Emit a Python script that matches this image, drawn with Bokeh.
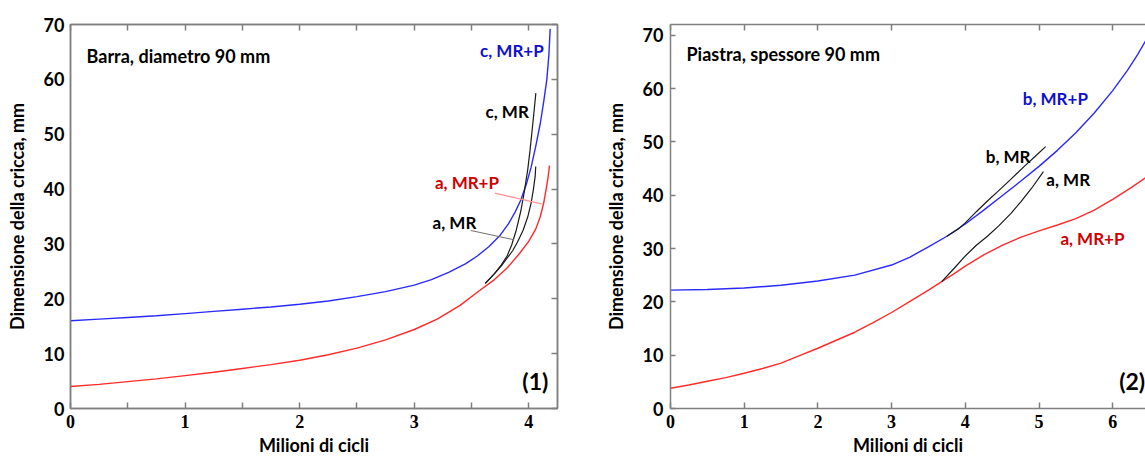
from bokeh.plotting import figure
from bokeh.models import FixedTicker, LinearAxis, Label, Range1d
from bokeh.layouts import row
from bokeh.embed import file_html
from bokeh.resources import INLINE

# ---------------- data ----------------
# Panel 1: Barra, diametro 90 mm
bar_c_mrp_x = [0, 0.25, 0.5, 0.75, 1, 1.25, 1.5, 1.75, 2, 2.25, 2.5, 2.75, 3, 3.15, 3.3, 3.45, 3.55,
               3.65, 3.75, 3.82, 3.88, 3.93, 3.98, 4.02, 4.06, 4.1, 4.13, 4.157, 4.175, 4.186]
bar_c_mrp_y = [16.0, 16.3, 16.6, 16.9, 17.3, 17.7, 18.1, 18.5, 19.0, 19.6, 20.4, 21.3, 22.5, 23.5, 24.8,
               26.4, 27.8, 29.5, 31.6, 33.6, 35.8, 38.0, 41.0, 44.0, 47.8, 52.0, 56.0, 60.0, 64.5, 69.2]

bar_a_mrp_x = [0, 0.25, 0.5, 0.75, 1, 1.25, 1.5, 1.75, 2, 2.25, 2.5, 2.75, 3, 3.2, 3.4, 3.55, 3.7,
               3.81, 3.92, 4.0, 4.06, 4.1, 4.13, 4.155, 4.17, 4.18]
bar_a_mrp_y = [4.0, 4.4, 4.9, 5.4, 6.0, 6.6, 7.3, 8.0, 8.8, 9.8, 11.0, 12.5, 14.4, 16.3, 18.8, 21.2, 23.5,
               25.6, 28.3, 30.5, 32.7, 35.0, 37.5, 40.5, 42.5, 44.3]

bar_c_mr_x = [3.62, 3.7, 3.76, 3.81, 3.85, 3.89, 3.93, 3.96, 3.99, 4.01, 4.03, 4.047, 4.061]
bar_c_mr_y = [22.8, 24.6, 26.2, 27.8, 29.8, 32.5, 36.0, 39.5, 43.5, 47.0, 51.0, 54.5, 57.5]

bar_a_mr_x = [3.62, 3.7, 3.76, 3.81, 3.86, 3.90, 3.95, 3.99, 4.02, 4.04, 4.055, 4.06]
bar_a_mr_y = [22.8, 24.6, 26.0, 27.4, 28.8, 30.3, 32.5, 34.9, 37.5, 40.0, 42.3, 44.1]

# Panel 2: Piastra, spessore 90 mm
pl_b_mrp_x = [0, 0.5, 1, 1.5, 2, 2.5, 3, 3.25, 3.5, 3.75, 4.0, 4.25, 4.5, 4.75, 5.0, 5.25, 5.5,
              5.75, 6.0, 6.2, 6.34, 6.45]
pl_b_mrp_y = [22.2, 22.3, 22.6, 23.1, 23.9, 25.0, 26.9, 28.4, 30.3, 32.3, 34.6, 37.2, 39.9, 42.6,
              45.4, 48.4, 51.7, 55.4, 59.6, 63.4, 66.4, 69.0]

pl_a_mrp_x = [0, 0.25, 0.5, 0.75, 1, 1.25, 1.5, 1.75, 2, 2.25, 2.5, 2.75, 3, 3.25, 3.5, 3.68, 3.85,
              4.0, 4.25, 4.5, 4.75, 5.0, 5.25, 5.5, 5.75, 6.0, 6.25, 6.45]
pl_a_mrp_y = [3.8, 4.4, 5.1, 5.8, 6.6, 7.5, 8.5, 9.9, 11.3, 12.8, 14.3, 16.1, 18.0, 20.1, 22.2, 23.8,
              25.3, 26.7, 28.8, 30.6, 32.1, 33.3, 34.4, 35.6, 37.2, 39.2, 41.4, 43.3]

pl_b_mr_x = [3.75, 3.9, 4.0, 4.15, 4.3, 4.45, 4.62, 4.8, 4.95, 5.09]
pl_b_mr_y = [32.3, 33.6, 34.8, 36.9, 38.9, 40.8, 43.0, 45.4, 47.3, 49.1]

pl_a_mr_x = [3.68, 3.85, 4.0, 4.15, 4.3, 4.45, 4.62, 4.75, 4.9, 5.06]
pl_a_mr_y = [23.8, 26.3, 28.6, 30.6, 32.3, 34.2, 36.6, 38.7, 41.3, 44.4]

x_ticks_1 = [0, 1, 2, 3, 4]
x_minor_1 = [0.5, 1.5, 2.5, 3.5]
x_ticks_2 = [0, 1, 2, 3, 4, 5, 6]
y_ticks = [0, 10, 20, 30, 40, 50, 60, 70]

# ---------------- style ----------------
SANS = "Lato"
SERIF = "Liberation Serif"
GRAY = "#7f7f7f"
BLUE = "#2a2aff"
RED = "#ff2a2a"
BLACK = "#1a1a1a"
TICK_FS = "18px"
TITLE_FS = "18px"


def base_fig(width, x_end, y_end, min_left, min_right):
    p = figure(width=width, height=459, x_range=Range1d(0, x_end), y_range=Range1d(0, y_end),
               output_backend="svg", toolbar_location=None,
               min_border_left=min_left, min_border_right=min_right,
               min_border_top=24, min_border_bottom=51)
    p.grid.visible = False
    p.background_fill_color = "white"
    p.border_fill_color = "white"
    return p


def style_x(ax, ticks, minor):
    ax.ticker = FixedTicker(ticks=ticks, minor_ticks=minor)
    ax.major_tick_in = 6
    ax.major_tick_out = 0
    ax.minor_tick_in = 6
    ax.minor_tick_out = 0
    ax.major_tick_line_color = GRAY
    ax.minor_tick_line_color = GRAY
    ax.major_tick_line_width = 1.5
    ax.minor_tick_line_width = 1.5
    ax.axis_line_color = GRAY
    ax.axis_line_width = 1.5
    ax.major_label_text_font = SERIF
    ax.major_label_text_font_style = "bold"
    ax.major_label_text_font_size = TICK_FS
    ax.major_label_text_color = "black"
    ax.major_label_standoff = 6


def style_y(ax, tick_len, standoff):
    ax.ticker = FixedTicker(ticks=y_ticks)
    ax.major_tick_in = tick_len
    ax.major_tick_out = 0
    ax.minor_tick_line_color = None
    ax.major_tick_line_color = GRAY
    ax.major_tick_line_width = 1.5
    ax.axis_line_color = GRAY
    ax.axis_line_width = 1.5
    ax.major_label_text_font = SANS
    ax.major_label_text_font_style = "bold"
    ax.major_label_text_font_size = TICK_FS
    ax.major_label_text_color = "black"
    ax.major_label_standoff = standoff


def hide_labels(ax, ticks):
    ax.major_label_overrides = {t: "" for t in ticks}
    ax.major_label_standoff = 0


def titles(p):
    xa = p.below[0]
    ya = p.left[0]
    xa.axis_label = "Milioni di cicli"
    ya.axis_label = "Dimensione della cricca, mm"
    for a in (xa, ya):
        a.axis_label_text_font = SANS
        a.axis_label_text_font_style = "bold"
        a.axis_label_text_font_size = TITLE_FS
        a.axis_label_text_color = "black"
    xa.axis_label_standoff = 3
    ya.axis_label_standoff = 13


def label(p, x, y, text, color="black", align="left", size="17px"):
    p.add_layout(Label(x=x, y=y, text=text, text_color=color, text_align=align,
                       text_baseline="middle", text_font=SANS, text_font_style="bold",
                       text_font_size=size))


# ---------------- panel 1 ----------------
p1 = base_fig(600, 4.25, 70, 70, 43)
style_x(p1.below[0], x_ticks_1, x_minor_1)
style_y(p1.left[0], 0, 6)
top1 = LinearAxis()
style_x(top1, x_ticks_1, x_minor_1)
hide_labels(top1, x_ticks_1)
p1.add_layout(top1, "above")
right1 = LinearAxis()
style_y(right1, 6, 0)
hide_labels(right1, y_ticks)
p1.add_layout(right1, "right")
titles(p1)
p1.outline_line_color = GRAY
p1.outline_line_width = 1.5

p1.line(bar_c_mrp_x, bar_c_mrp_y, line_color=BLUE, line_width=1.4)
p1.line(bar_a_mrp_x, bar_a_mrp_y, line_color=RED, line_width=1.4)
p1.line(bar_c_mr_x, bar_c_mr_y, line_color=BLACK, line_width=1.2)
p1.line(bar_a_mr_x, bar_a_mr_y, line_color=BLACK, line_width=1.2)
# leader lines
p1.line([3.703, 4.111], [39.25, 37.3], line_color="#ff9090", line_width=1.3)
p1.line([3.493, 3.872], [32.45, 30.75], line_color="#707070", line_width=1.0)

label(p1, 0.14, 64.3, "Barra, diametro 90 mm", size="18px")
label(p1, 4.13, 65.3, "c, MR+P", color="#1010d0", align="right")
label(p1, 4.0, 54.1, "c, MR", align="right")
label(p1, 3.18, 41.2, "a, MR+P", color="#d00000")
label(p1, 3.16, 33.9, "a, MR")
label(p1, 4.17, 5.1, "(1)", align="right", size="23px")

# ---------------- panel 2 ----------------
p2 = base_fig(545, 6.445, 72, 70, 0)
style_x(p2.below[0], x_ticks_2, [])
style_y(p2.left[0], 5, 7)
top2 = LinearAxis()
style_x(top2, x_ticks_2, [])
hide_labels(top2, x_ticks_2)
p2.add_layout(top2, "above")
titles(p2)
p2.outline_line_color = None

p2.line(pl_b_mrp_x, pl_b_mrp_y, line_color=BLUE, line_width=1.4)
p2.line(pl_a_mrp_x, pl_a_mrp_y, line_color=RED, line_width=1.4)
p2.line(pl_b_mr_x, pl_b_mr_y, line_color=BLACK, line_width=1.2)
p2.line(pl_a_mr_x, pl_a_mr_y, line_color=BLACK, line_width=1.2)

label(p2, 0.217, 66.5, "Piastra, spessore  90 mm", size="18px")
label(p2, 4.78, 58.2, "b, MR+P", color="#1010d0")
label(p2, 4.885, 47.2, "b, MR", align="right")
label(p2, 5.10, 42.9, "a, MR")
label(p2, 5.29, 31.8, "a, MR+P", color="#d00000")
label(p2, 6.44, 5.2, "(2)", align="right", size="23px")

layout = row(p1, p2)
open("out.html", "w").write(file_html(layout, INLINE))
